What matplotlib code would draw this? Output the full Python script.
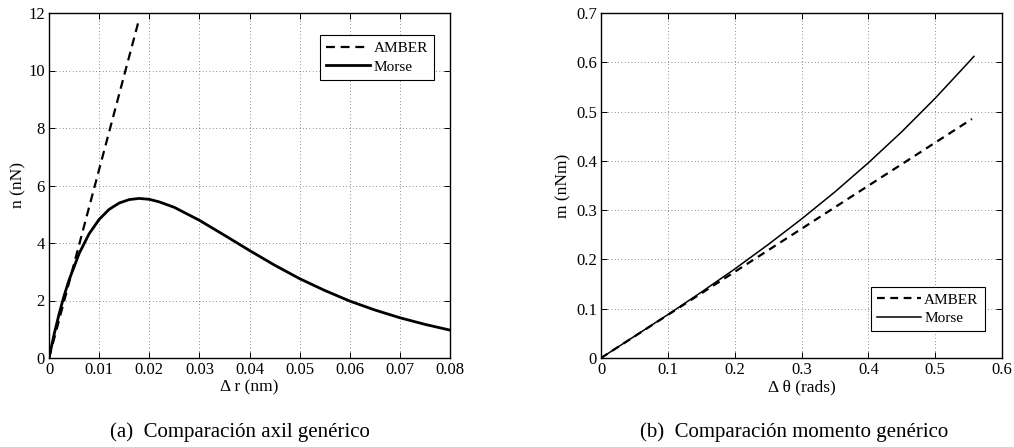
import matplotlib
matplotlib.use("Agg")
import matplotlib.pyplot as plt

plt.rcParams["font.family"] = ["Liberation Serif", "DejaVu Serif"]
plt.rcParams["mathtext.fontset"] = "stix"

# (a) axial force vs. elongation
axial_amber_dr = [0.0, 0.018]
axial_amber_n = [0.0, 11.8]
axial_morse_dr = [0.0, 0.001, 0.002, 0.003, 0.004, 0.006, 0.008, 0.010, 0.012,
                  0.014, 0.016, 0.018, 0.020, 0.022, 0.025, 0.030, 0.035, 0.040,
                  0.045, 0.050, 0.055, 0.060, 0.065, 0.070, 0.075, 0.080]
axial_morse_n = [0.0, 0.81, 1.52, 2.16, 2.71, 3.63, 4.32, 4.82, 5.17,
                 5.39, 5.51, 5.55, 5.52, 5.43, 5.24, 4.79, 4.27, 3.74,
                 3.23, 2.76, 2.35, 1.98, 1.67, 1.40, 1.17, 0.97]

# (b) bending moment vs. angle change
moment_amber_dt = [0.0, 0.555]
moment_amber_m = [0.0, 0.485]
moment_morse_dt = [0.0, 0.05, 0.10, 0.15, 0.20, 0.25, 0.30, 0.35, 0.40,
                   0.45, 0.50, 0.55, 0.558]
moment_morse_m = [0.0, 0.044, 0.088, 0.1335, 0.1805, 0.230, 0.282, 0.337, 0.396,
                  0.459, 0.527, 0.600, 0.612]

axial_xticks = [0, 0.01, 0.02, 0.03, 0.04, 0.05, 0.06, 0.07, 0.08]
axial_xlabels = ["0", "0.01", "0.02", "0.03", "0.04", "0.05", "0.06", "0.07", "0.08"]
axial_yticks = [0, 2, 4, 6, 8, 10, 12]
moment_xticks = [0, 0.1, 0.2, 0.3, 0.4, 0.5, 0.6]
moment_xlabels = ["0", "0.1", "0.2", "0.3", "0.4", "0.5", "0.6"]
moment_yticks = [0, 0.1, 0.2, 0.3, 0.4, 0.5, 0.6, 0.7]
moment_ylabels = ["0", "0.1", "0.2", "0.3", "0.4", "0.5", "0.6", "0.7"]

W, H = 1014, 447
fig = plt.figure(figsize=(W / 100, H / 100), dpi=100)

ax1 = fig.add_axes([49 / W, (H - 358) / H, 401 / W, 345 / H])
ax2 = fig.add_axes([601 / W, (H - 358) / H, 401 / W, 345 / H])


def style(ax):
    ax.tick_params(direction="in", top=True, right=True, length=4, width=0.7,
                   labelsize=12, pad=3)
    for sp in ax.spines.values():
        sp.set_linewidth(1.0)
    ax.grid(True, linestyle=(0, (1, 3)), color="#666666", linewidth=0.6)


ax1.plot(axial_amber_dr, axial_amber_n, color="black", lw=1.6,
         linestyle=(0, (4, 2.6)), label="AMBER")
ax1.plot(axial_morse_dr, axial_morse_n, color="black", lw=2.0, label="Morse")
ax1.set_xlim(0, 0.08)
ax1.set_ylim(0, 12)
ax1.set_xticks(axial_xticks)
ax1.set_xticklabels(axial_xlabels)
ax1.set_yticks(axial_yticks)
style(ax1)
ax1.set_xlabel("Δ r (nm)", fontsize=12.5, labelpad=1)
ax1.set_ylabel("n (nN)", fontsize=12.5, labelpad=1)
leg1 = ax1.legend(loc="upper right", bbox_to_anchor=(0.96, 0.935), fontsize=11,
                  frameon=True, fancybox=False, edgecolor="black", framealpha=1,
                  handlelength=2.9, borderpad=0.4, labelspacing=0.3,
                  handletextpad=0.2, borderaxespad=0)
leg1.get_frame().set_linewidth(0.8)

ax2.plot(moment_amber_dt, moment_amber_m, color="black", lw=1.6,
         linestyle=(0, (3.5, 2.5)), label="AMBER")
ax2.plot(moment_morse_dt, moment_morse_m, color="black", lw=1.1, label="Morse")
ax2.set_xlim(0, 0.6)
ax2.set_ylim(0, 0.7)
ax2.set_xticks(moment_xticks)
ax2.set_xticklabels(moment_xlabels)
ax2.set_yticks(moment_yticks)
ax2.set_yticklabels(moment_ylabels)
style(ax2)
ax2.set_xlabel("Δ θ (rads)", fontsize=12.5, labelpad=1)
ax2.set_ylabel("m (nNm)", fontsize=12.5, labelpad=3)
leg2 = ax2.legend(loc="lower right", bbox_to_anchor=(0.957, 0.078), fontsize=11,
                  frameon=True, fancybox=False, edgecolor="black", framealpha=1,
                  handlelength=2.9, borderpad=0.4, labelspacing=0.3,
                  handletextpad=0.2, borderaxespad=0)
leg2.get_frame().set_linewidth(0.8)

fig.text(240 / W, 1 - 432 / H, "(a)  Comparación axil genérico",
         ha="center", va="center", fontsize=15)
fig.text(794 / W, 1 - 432 / H, "(b)  Comparación momento genérico",
         ha="center", va="center", fontsize=15)

fig.savefig("out.png", dpi=100)
